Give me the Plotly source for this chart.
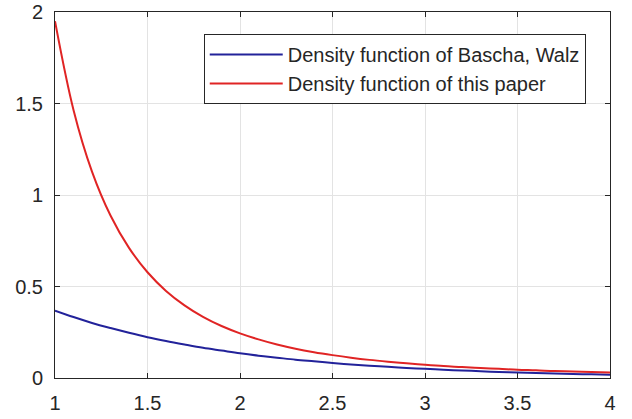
import plotly.graph_objects as go

x_vals = [1.0, 1.1, 1.2, 1.3, 1.4, 1.5, 1.6, 1.7, 1.8, 1.9, 2.0,
          2.1, 2.2, 2.3, 2.4, 2.5, 2.6, 2.7, 2.8, 2.9, 3.0,
          3.1, 3.2, 3.3, 3.4, 3.5, 3.6, 3.7, 3.8, 3.9, 4.0]
bascha_walz = [0.368, 0.333, 0.301, 0.273, 0.247, 0.223, 0.202, 0.183, 0.165, 0.150, 0.135,
               0.122, 0.111, 0.100, 0.091, 0.082, 0.074, 0.067, 0.061, 0.055, 0.050,
               0.045, 0.041, 0.037, 0.033, 0.030, 0.027, 0.025, 0.022, 0.020, 0.018]
this_paper = [1.95, 1.465, 1.128, 0.888, 0.711, 0.578, 0.476, 0.397, 0.334, 0.284, 0.244,
              0.211, 0.183, 0.160, 0.141, 0.125, 0.111, 0.099, 0.089, 0.080, 0.072,
              0.065, 0.060, 0.054, 0.050, 0.045, 0.042, 0.038, 0.036, 0.033, 0.030]
x_ticks = [1, 1.5, 2, 2.5, 3, 3.5, 4]
x_tick_labels = ["1", "1.5", "2", "2.5", "3", "3.5", "4"]
y_ticks = [0, 0.5, 1, 1.5, 2]
y_tick_labels = ["0", "0.5", "1", "1.5", "2"]

fig = go.Figure()
fig.add_trace(go.Scatter(x=x_vals, y=bascha_walz, mode="lines",
                         name="Density function of Bascha, Walz",
                         line=dict(color="#22229a", width=2, shape="spline")))
fig.add_trace(go.Scatter(x=x_vals, y=this_paper, mode="lines",
                         name="Density function of this paper",
                         line=dict(color="#e02424", width=2, shape="spline")))

axis_common = dict(showline=True, linecolor="#262626", linewidth=1, mirror="ticks",
                   ticks="inside", ticklen=5, tickcolor="#262626",
                   showgrid=True, gridcolor="#e3e3e3", gridwidth=1, zeroline=False,
                   automargin=False, ticklabelstandoff=7, ticklabeloverflow="allow",
                   tickfont=dict(family="Liberation Sans, Arial, sans-serif", size=20, color="#262626"))

fig.update_layout(
    width=632, height=419,
    margin=dict(l=55, r=22, t=12, b=41),
    paper_bgcolor="white", plot_bgcolor="white",
    showlegend=True,
    legend=dict(x=0.268, y=0.94, xanchor="left", yanchor="top",
                bgcolor="white", bordercolor="#262626", borderwidth=1,
                font=dict(family="Liberation Sans, Arial, sans-serif", size=20, color="#262626"),
                tracegroupgap=0, itemwidth=73),
    xaxis=dict(range=[1, 4], tickvals=x_ticks, ticktext=x_tick_labels, **axis_common),
    yaxis=dict(range=[0, 2], tickvals=y_ticks, ticktext=y_tick_labels, **axis_common),
)

# remove the default 8px page margin so the figure fills the window exactly
fig.write_html("out.html", config={"displayModeBar": False},
               post_script="document.body.style.margin='0';")
